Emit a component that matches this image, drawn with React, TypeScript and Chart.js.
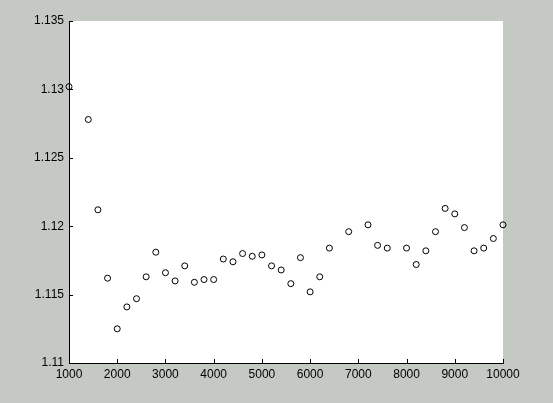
import React, { useEffect, useRef } from 'react';
import { Chart, registerables } from 'chart.js';

Chart.register(...registerables);

const sampleSizes = [
    1000, 1400, 1600, 1800, 2000, 2200, 2400, 2600, 2800, 3000, 3200, 3400, 3600, 3800, 4000, 4200, 4400, 4600,
    4800, 5000, 5200, 5400, 5600, 5800, 6000, 6200, 6400, 6800, 7200, 7400, 7600, 8000, 8200, 8400, 8600, 8800,
    9000, 9200, 9400, 9600, 9800, 10000,
];
const estimates = [
    1.1302, 1.1278, 1.1212, 1.1162, 1.1125, 1.1141, 1.1147, 1.1163, 1.1181, 1.1166, 1.116, 1.1171, 1.1159,
    1.1161, 1.1161, 1.1176, 1.1174, 1.118, 1.1178, 1.1179, 1.1171, 1.1168, 1.1158, 1.1177, 1.1152, 1.1163,
    1.1184, 1.1196, 1.1201, 1.1186, 1.1184, 1.1184, 1.1172, 1.1182, 1.1196, 1.1213, 1.1209, 1.1199, 1.1182,
    1.1184, 1.1191, 1.1201,
];
const xTicks = [1000, 2000, 3000, 4000, 5000, 6000, 7000, 8000, 9000, 10000];
const yTicks = [1.11, 1.115, 1.12, 1.125, 1.13, 1.135];

const FIG_BG = '#c5c9c4';
const TICK_FONT = { family: '"Liberation Sans", Arial, sans-serif', size: 12 };

// white axes box + inward MATLAB-style ticks
const axesPlugin = {
    id: 'matlabAxes',
    beforeDraw(chart: any) {
        const { ctx, chartArea } = chart;
        ctx.save();
        ctx.fillStyle = '#ffffff';
        ctx.fillRect(chartArea.left, chartArea.top, chartArea.right - chartArea.left, chartArea.bottom - chartArea.top);
        ctx.restore();
    },
    afterDatasetsDraw(chart: any) {
        const { ctx, chartArea, scales } = chart;
        ctx.save();
        ctx.strokeStyle = '#000000';
        ctx.lineWidth = 1;
        ctx.beginPath();
        xTicks.forEach((v) => {
            const px = Math.round(scales.x.getPixelForValue(v)) + 0.5;
            ctx.moveTo(px, chartArea.bottom);
            ctx.lineTo(px, chartArea.bottom - 4);
        });
        yTicks.forEach((v) => {
            const py = Math.round(scales.y.getPixelForValue(v)) + 0.5;
            ctx.moveTo(chartArea.left, py);
            ctx.lineTo(chartArea.left + 4, py);
        });
        ctx.stroke();
        ctx.restore();
    },
};

const App: React.FC = () => {
    const chartRef = useRef<HTMLCanvasElement | null>(null);

    useEffect(() => {
        document.body.style.margin = '0';
        if (!chartRef.current) return;
        const ctx = chartRef.current.getContext('2d');
        if (!ctx) return;

        const myChart = new Chart(ctx, {
            type: 'scatter',
            data: {
                datasets: [
                    {
                        label: '',
                        data: sampleSizes.map((x, i) => ({ x, y: estimates[i] })),
                        showLine: false,
                        pointStyle: 'circle',
                        pointRadius: 3,
                        pointBorderWidth: 1,
                        pointBorderColor: '#000000',
                        pointBackgroundColor: 'rgba(255,255,255,0)',
                        clip: false,
                    },
                ],
            },
            options: {
                animation: false,
                responsive: false,
                maintainAspectRatio: false,
                layout: { padding: { left: 0, top: 21, right: 50, bottom: 0 } },
                plugins: {
                    legend: { display: false },
                    tooltip: { enabled: false },
                },
                scales: {
                    x: {
                        type: 'linear',
                        min: 1000,
                        max: 10000,
                        afterFit: (scale: any) => {
                            scale.height = 40;
                        },
                        afterBuildTicks: (scale: any) => {
                            scale.ticks = xTicks.map((v) => ({ value: v }));
                        },
                        grid: { display: false, drawTicks: false },
                        border: { display: true, color: '#000000', width: 1 },
                        ticks: {
                            color: '#000000',
                            font: TICK_FONT,
                            padding: 4,
                            maxRotation: 0,
                            autoSkip: false,
                            callback: (v: any) => String(v),
                        },
                    },
                    y: {
                        type: 'linear',
                        min: 1.11,
                        max: 1.135,
                        afterFit: (scale: any) => {
                            scale.width = 69;
                        },
                        afterBuildTicks: (scale: any) => {
                            scale.ticks = yTicks.map((v) => ({ value: v }));
                        },
                        grid: { display: false, drawTicks: false },
                        border: { display: true, color: '#000000', width: 1 },
                        ticks: {
                            color: '#000000',
                            font: TICK_FONT,
                            padding: 5,
                            autoSkip: false,
                            callback: (v: any) => String(Number(Number(v).toFixed(3))),
                        },
                    },
                },
            },
            plugins: [axesPlugin],
        });

        return () => {
            myChart.destroy();
        };
    }, []);

    return (
        <div style={{ width: 553, height: 403, background: FIG_BG }}>
            <canvas ref={chartRef} width={553} height={403} style={{ display: 'block' }} />
        </div>
    );
};

export default App;
